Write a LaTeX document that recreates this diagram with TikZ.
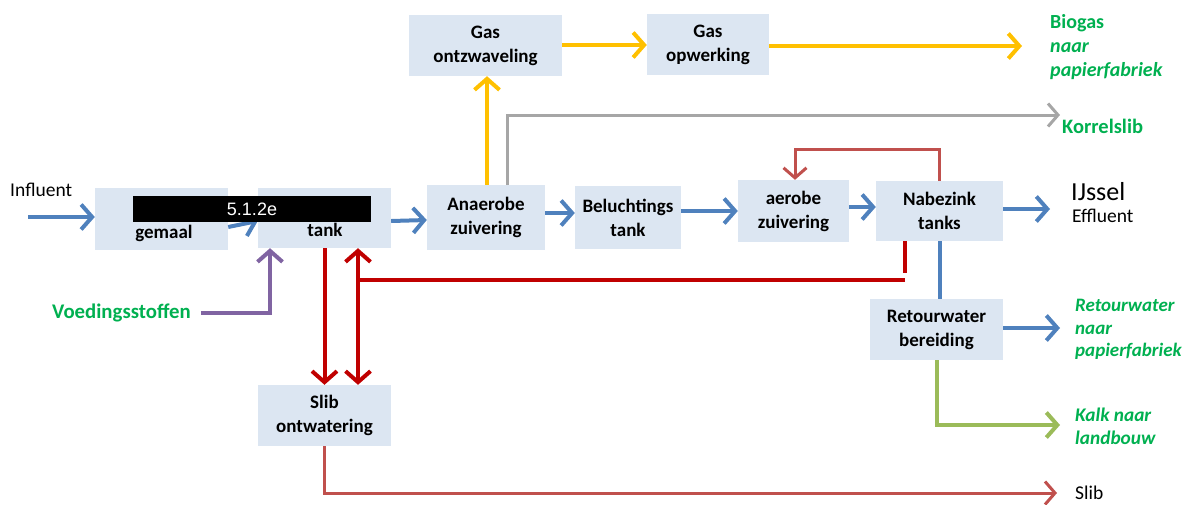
\documentclass[tikz,border=0pt]{standalone}
\usepackage{fontspec}
\setmainfont{Carlito}
\newfontfamily\arialf{Liberation Sans}
\usetikzlibrary{arrows.meta}
\definecolor{boxc}{HTML}{DCE6F2}
\definecolor{fblue}{HTML}{4F81BD}
\definecolor{fyellow}{HTML}{FFC000}
\definecolor{fgray}{HTML}{A6A6A6}
\definecolor{fgreentxt}{HTML}{00B050}
\definecolor{fgreen}{HTML}{9BBB59}
\definecolor{fredd}{HTML}{C00000}
\definecolor{fredl}{HTML}{C0504D}
\definecolor{fpurple}{HTML}{8064A2}
\begin{document}
\begin{tikzpicture}[x=1pt,y=-1pt,
  box/.style={fill=boxc, draw=none, inner sep=0pt, align=center,
    font=\bfseries\fontsize{19}{24}\selectfont},
  lbl/.style={inner sep=0pt, anchor=west, align=left, font=\fontsize{19.5}{23}\selectfont},
  glbl/.style={lbl, text=fgreentxt, font=\bfseries\fontsize{20}{24}\selectfont},
  arr/.style={line width=4pt, -{Straight Barb[length=11pt,width=25pt,line width=4pt]}},
  arrboth/.style={line width=4pt, {Straight Barb[length=11pt,width=25pt,line width=4pt]}-{Straight Barb[length=11pt,width=25pt,line width=4pt]}},
  thinarr/.style={line width=3pt, -{Straight Barb[length=10pt,width=23pt,line width=3pt]}},
  thin/.style={line width=3pt}
]
\useasboundingbox (0,0) rectangle (1184,504);

% boxes
\node[box, minimum width=133pt, minimum height=62pt] (gemaal) at (161.5,219) {};
\node[box, minimum width=133pt, minimum height=60pt] (tank) at (324.5,218) {};
\node[box, minimum width=153pt, minimum height=61pt] (gasontz) at (485.5,45.5) {Gas\\ontzwaveling};
\node[box, minimum width=122pt, minimum height=61pt] (gasopw) at (708,44.5) {Gas\\opwerking};
\node[box, minimum width=118pt, minimum height=65pt] (anaer) at (486,217.5) {Anaerobe\\zuivering};
\node[box, minimum width=106pt, minimum height=63pt] (belucht) at (628,217.5) {Beluchtings\\tank};
\node[box, minimum width=111pt, minimum height=62pt] (aer) at (793.5,211) {aerobe\\zuivering};
\node[box, minimum width=127pt, minimum height=60pt] (nabe) at (939.5,211) {Nabezink\\tanks};
\node[box, minimum width=133pt, minimum height=61pt] (retour) at (936.5,329.5) {Retourwater\\bereiding};
\node[box, minimum width=133pt, minimum height=61pt] (slib) at (324.5,415.5) {Slib\\ontwatering};

% labels
\node[lbl] (influent) at (10,190) {Influent};
\node[glbl, font=\bfseries\fontsize{20.8}{24}\selectfont] (voed) at (52,313) {Voedingsstoffen};
\node[glbl] (biogas) at (1050,47) {Biogas\\\itshape naar\\\itshape papierfabriek};
\node[glbl, font=\bfseries\fontsize{20.5}{24}\selectfont] (korrel) at (1062,126) {Korrelslib};
\node[lbl, font=\fontsize{26}{28}\selectfont] (ijssel) at (1071,192) {IJssel};
\node[lbl] (effl) at (1072,216) {Effluent};
\node[glbl, font=\bfseries\itshape\fontsize{19}{22.5}\selectfont] (retourtxt) at (1075,329.5) {Retourwater\\naar\\papierfabriek};
\node[glbl, font=\bfseries\itshape\fontsize{19.3}{23}\selectfont] (kalk) at (1075,426.5) {Kalk naar\\landbouw};
\node[lbl] (slibtxt) at (1075,493) {Slib};

% free ends
\coordinate (infstart) at (28,217);
\coordinate (bioend) at (1022,46);
\coordinate (korrelend) at (1060,115);
\coordinate (ijend) at (1050,209);
\coordinate (retend) at (1060,328);
\coordinate (kalkend) at (1060,425);
\coordinate (slibend) at (1057,493);
\coordinate (junction) at (358,280);

% blue main line
\draw[arr, fblue] (infstart) -- (infstart -| gemaal.west);
\draw[arr, fblue] ([yshift=-8pt]gemaal.east) -- ([yshift=-3pt]tank.west);
\draw[arr, fblue] ([yshift=-3pt]tank.east) -- ([yshift=-2.5pt]anaer.west);
\draw[arr, fblue] ([yshift=4.5pt]anaer.east) -- ([yshift=4.5pt]belucht.west);
\draw[arr, fblue] ([yshift=6.5pt]belucht.east) -- (aer.west |- 0,211);
\draw[arr, fblue] (aer.east |- 0,207) -- (nabe.west |- 0,207);
\draw[arr, fblue] (nabe.east |- 0,209) -- (ijend);
\draw[line width=4pt, fblue] (nabe.south) -- (nabe.south |- retour.north);
\draw[arr, fblue] (retour.east |- retend) -- (retend);

% gas
\draw[arr, fyellow] ([xshift=1pt]anaer.north) -- ([xshift=1pt]anaer.north |- gasontz.south);
\draw[arr, fyellow] (gasontz.east |- 0,45) -- (gasopw.west |- 0,45);
\draw[arr, fyellow] (gasopw.east |- 0,46) -- (bioend);
\draw[thinarr, fgray] ([xshift=21pt]anaer.north) |- (korrelend);

% green
\draw[arr, fgreen] ([xshift=0.5pt]retour.south) |- (kalkend);

% purple
\draw[arr, fpurple] ([xshift=10pt]voed.east) -| ([xshift=-54.5pt]tank.south);

% red
\draw[thinarr, fredl] (nabe.north) -- ++(0,-31) -| ([xshift=1.5pt]aer.north);
\draw[arr, fredd] (tank.south) -- (slib.north);
\draw[arrboth, fredd] ([xshift=33.5pt]tank.south) -- ([xshift=33.5pt]slib.north);
\draw[line width=4pt, fredd] ([xshift=-34.5pt]nabe.south) -- ([xshift=-34.5pt]nabe.south |- 0,273);
\draw[line width=4pt, fredd] ([xshift=-34.5pt,yshift=-7pt]nabe.south |- 0,273) -- (junction);
\draw[thinarr, fredl] (slib.south) |- (slibend);

% redaction bar
\node[fill=black, minimum width=238pt, minimum height=26pt, inner sep=0pt,
  text=white, font=\arialf\fontsize{18}{20}\selectfont] (redact) at (252,209) {5.1.2e};
\node[lbl, font=\bfseries\fontsize{19}{23}\selectfont, anchor=center] (gemaaltxt) at (164,233) {gemaal};
\node[lbl, font=\bfseries\fontsize{19}{23}\selectfont, anchor=center] (tanktxt) at (325,230) {tank};
\end{tikzpicture}
\end{document}
